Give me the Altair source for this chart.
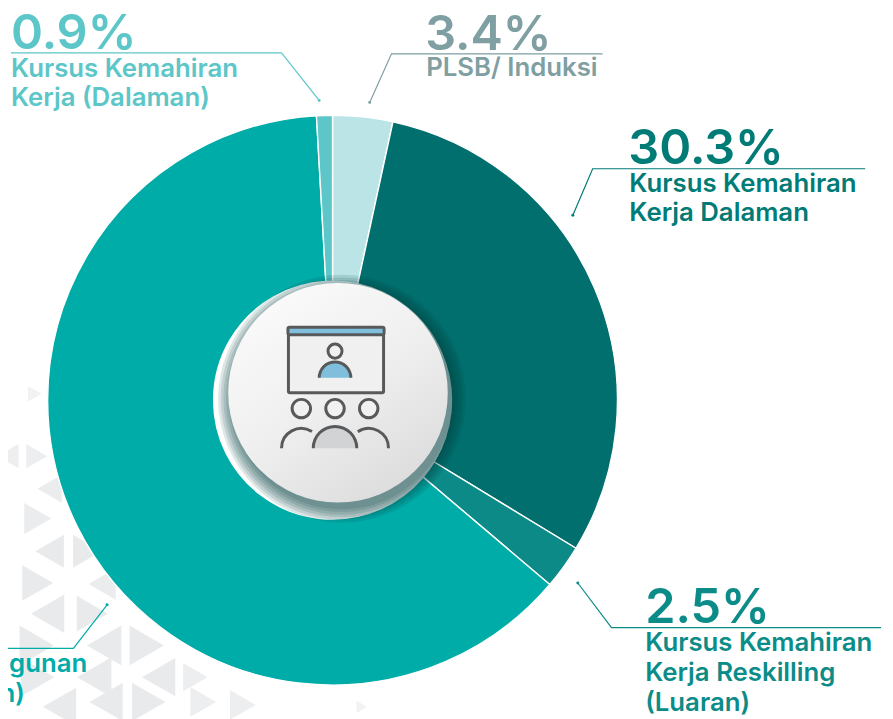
import altair as alt
import pandas as pd

# Slice data
categories = ["PLSB/ Induksi", "Kursus Kemahiran Kerja Dalaman", "Kursus Kemahiran Kerja Reskilling (Luaran)",
              "Kursus Kemahiran Kerja Pembangunan (Dalaman)", "Kursus Kemahiran Kerja (Dalaman)"]
values = [3.4, 30.3, 2.5, 62.9, 0.9]
colors = ["#bbe4e6", "#006f6d", "#0b8a87", "#00aca8", "#5cc6c8"]
order = [0, 1, 2, 3, 4]

W, H = 885, 711
sx = alt.Scale(domain=[8, 893], range=[0, 885], nice=False, zero=False)
sy = alt.Scale(domain=[8, 719], range=[0, 711], nice=False, zero=False)
X = lambda f="x": alt.X(f"{f}:Q", scale=sx, axis=None)
Y = lambda f="y": alt.Y(f"{f}:Q", scale=sy, axis=None)
CX, CY = 335.5 - 8, 400.5 - 8

# Background triangles: x, y, direction, size, opacity
tri_x = [35, 37, 8, 50, 38, 50, 88, 38, 103, 48, 93, 105, 37, 148, 95, 160, 197, 107, 150, 38, 245, 365, 60, 205]
tri_y = [394, 457, 457, 490, 520, 553, 553, 585, 586, 616, 616, 648, 648, 648, 680, 680, 680, 705, 705, 680, 708, 710, 710, 705]
tri_d = ["R", "R", "L", "L", "R", "L", "R", "R", "L", "L", "R", "L", "R", "R", "L", "L", "R", "L", "R", "R", "R", "R", "L", "R"]
tri_s = [250, 600, 600, 800, 1000, 1100, 1100, 1300, 1000, 1500, 1300, 1600, 1600, 1600, 1600, 1500, 800, 1500, 1500, 1500, 900, 150, 1500, 900]
tri_o = [0.6, 0.8, 0.8, 0.9, 0.9, 1, 1, 1, 0.9, 1, 1, 1, 1, 1, 1, 1, 0.8, 1, 1, 1, 0.8, 0.6, 1, 0.8]

tri_df = pd.DataFrame({"x": tri_x, "y": tri_y, "d": tri_d, "s": tri_s, "o": tri_o})
tri_layers = []
for d, shape in (("R", "triangle-right"), ("L", "triangle-left")):
    tri_layers.append(
        alt.Chart(tri_df[tri_df.d == d]).mark_point(shape=shape, filled=True, color="#e9eaec", strokeWidth=0).encode(
            x=X(), y=Y(),
            size=alt.Size("s:Q", scale=None, legend=None),
            opacity=alt.Opacity("o:Q", scale=None, legend=None),
        )
    )

pie_df = pd.DataFrame({"cat": categories, "v": values, "ord": order})
donut = alt.Chart(pie_df).mark_arc(outerRadius=287.5, innerRadius=120, stroke="white", strokeWidth=1.4).encode(
    theta=alt.Theta("v:Q", stack=True, scale=alt.Scale(domain=[0, 100], range=[0, 6.28319])),
    order=alt.Order("ord:Q"),
    color=alt.Color("cat:N", scale=alt.Scale(domain=categories, range=colors), legend=None),
    x=alt.value(CX), y=alt.value(CY),
)

# Soft shadow: stacked discs
sh_r = [141, 138, 135, 132, 129, 126]
sh_df = pd.DataFrame({"x": [345] * 6, "y": [399] * 6, "s": [3.1416 * r * r for r in sh_r]})
shadow = alt.Chart(sh_df).mark_circle(color="#00403f", opacity=0.13).encode(
    x=X(), y=Y(), size=alt.Size("s:Q", scale=None, legend=None))

disc_df = pd.DataFrame({"x": [341], "y": [393], "s": [3.1416 * 125 * 125]})
disc_grad = alt.LinearGradient(gradient="linear", x1=0.2, y1=0.05, x2=0.8, y2=0.95,
                               stops=[alt.GradientStop(color="#fbfafa", offset=0),
                                      alt.GradientStop(color="#f0efef", offset=0.5),
                                      alt.GradientStop(color="#dcdcdc", offset=1)])
disc = alt.Chart(disc_df).mark_circle(fill=disc_grad, opacity=1, strokeWidth=0).encode(
    x=X(), y=Y(), size=alt.Size("s:Q", scale=None, legend=None))

# Icon
GR = "#58595b"
def rect(x1, x2, y1, y2, fill, stroke=GR, sw=3):
    d = pd.DataFrame({"x": [x1], "x2": [x2], "y": [y1], "y2": [y2]})
    return alt.Chart(d).mark_rect(fill=fill, stroke=stroke, strokeWidth=sw, cornerRadius=1.5).encode(
        x=X(), x2="x2:Q", y=Y(), y2="y2:Q")

def ring(x, y, r, fill="#f2f1f1"):
    d = pd.DataFrame({"x": [x], "y": [y], "s": [3.1416 * r * r]})
    return alt.Chart(d).mark_circle(fill=fill, stroke=GR, strokeWidth=3, opacity=1).encode(
        x=X(), y=Y(), size=alt.Size("s:Q", scale=None, legend=None))

def body(x, y, r, fill, t1=4.7124, t2=7.854):
    return alt.Chart(pd.DataFrame({"k": [0]})).mark_arc(
        theta=t1, theta2=t2, outerRadius=r, innerRadius=0, fill=fill, stroke=None
    ).encode(x=alt.value(x - 8), y=alt.value(y - 8))

def band(x, y, r, t1, t2, sw=3):
    return alt.Chart(pd.DataFrame({"k": [0]})).mark_arc(
        theta=t1, theta2=t2, outerRadius=r + sw / 2, innerRadius=r - sw / 2, fill=GR
    ).encode(x=alt.value(x - 8), y=alt.value(y - 8))

icon = [
    rect(291, 387, 334, 393, "#f1f0f0"),
    rect(290.5, 387.5, 327, 334.5, "#7fbfdc"),
    body(338, 378, 16, "#7fbfdc"),
    band(338, 378, 16, 4.7124, 7.854),
    ring(338, 351, 8),
    band(304, 449, 20, 4.7124, 6.85),
    band(372, 449, 20, 5.7, 7.854),
    body(338, 449, 22, "#d1d3d4"),
    band(338, 449, 22, 4.7124, 7.854),
    ring(304, 409, 10.5),
    ring(338, 409, 10.5),
    ring(372, 409, 10.5),
]

# Leader lines
lead_name = ["a", "a", "a", "b", "b", "b", "c", "c", "c", "d", "d", "d", "e", "e", "e"]
lead_seq = [0, 1, 2] * 5
lead_x = [11, 284, 322, 608, 395, 373, 873, 598, 578, 889, 617, 583, 8, 74, 108]
lead_y = [50, 50, 98, 51, 51, 100, 167, 167, 214, 630, 630, 585, 651, 651, 607]
lead_c = ["#5cc6c8", "#7f9fa2", "#007b76", "#0c8c88", "#00aca8"]
lead_df = pd.DataFrame({"n": lead_name, "i": lead_seq, "x": lead_x, "y": lead_y})
leaders = alt.Chart(lead_df).mark_line(strokeWidth=1.2).encode(
    x=X(), y=Y(), order="i:Q", detail="n:N",
    color=alt.Color("n:N", scale=alt.Scale(domain=list("abcde"), range=lead_c), legend=None))
arrow_df = lead_df[lead_df.i == 2]
arrows = alt.Chart(arrow_df).mark_point(shape="circle", filled=True, size=9, opacity=1).encode(
    x=X(), y=Y(),
    color=alt.Color("n:N", scale=alt.Scale(domain=list("abcde"), range=lead_c), legend=None))

# Labels
lab_text = ["0.9%", "Kursus Kemahiran", "Kerja (Dalaman)",
            "3.4%", "PLSB/ Induksi",
            "30.3%", "Kursus Kemahiran", "Kerja Dalaman",
            "2.5%", "Kursus Kemahiran", "Kerja Reskilling", "(Luaran)",
            "Kursus Kemahiran Kerja Pembangunan", "(Dalaman)"]
lab_x = [11, 11, 11, 429, 430, 634, 635, 635, 651, 651, 651, 651, 88, 11]
lab_y = [46, 74, 104, 47, 73, 162, 190, 220, 625, 654, 684, 714, 675, 705]
lab_c = ["#5cc6c8"] * 3 + ["#7f9fa2"] * 2 + ["#007b76"] * 3 + ["#0c8c88"] * 4 + ["#00aca8"] * 2
lab_s = [49, 26, 26, 49, 26, 49, 26, 26, 49, 26, 26, 26, 26, 26]
lab_a = ["left"] * 12 + ["right", "right"]
lab_df = pd.DataFrame({"t": lab_text, "x": lab_x, "y": lab_y, "c": lab_c, "s": lab_s, "a": lab_a})
lab_layers = []
for a in ("left", "right"):
    sub = lab_df[lab_df.a == a]
    if a == "right":
        sub = sub.assign(x=[88, 25])
    lab_layers.append(
        alt.Chart(sub).mark_text(align=a, baseline="alphabetic", font="Inter", fontWeight=600).encode(
            x=X(), y=Y(), text="t:N",
            color=alt.Color("c:N", scale=None, legend=None),
            size=alt.Size("s:Q", scale=None, legend=None),
        )
    )

chart = alt.layer(*tri_layers, leaders, arrows, donut, shadow, disc, *icon, *lab_layers).resolve_scale(
    color="independent", size="independent", opacity="independent"
).properties(
    width=W, height=H, padding=0, autosize=alt.AutoSizeParams(type="none")
).configure_view(strokeWidth=0).configure(background="white") if False else alt.layer(
    *tri_layers, leaders, arrows, donut, shadow, disc, *icon, *lab_layers
).resolve_scale(color="independent", size="independent", opacity="independent").properties(
    width=W, height=H, padding=0, autosize=alt.AutoSizeParams(type="none")
).configure_view(strokeWidth=0)

chart.save("out.html", embed_options={"renderer": "svg", "actions": False})
